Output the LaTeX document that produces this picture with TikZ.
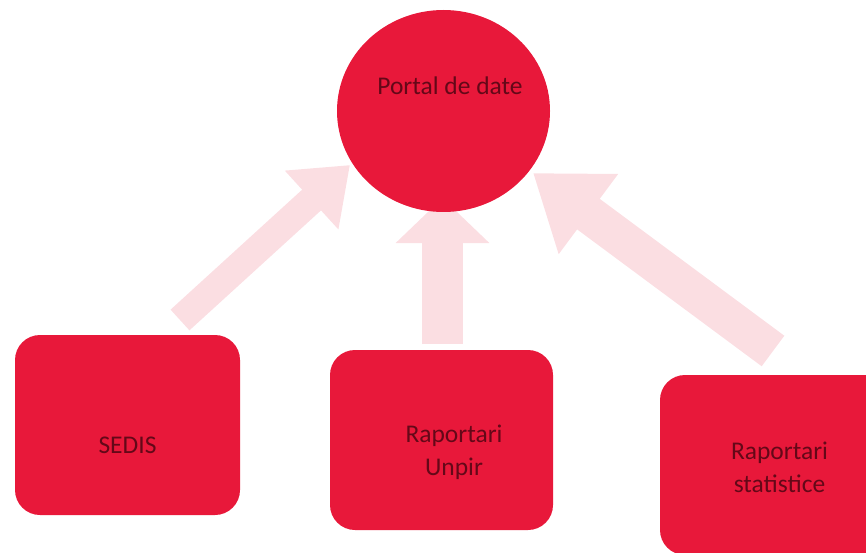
\documentclass[tikz,border=0pt]{standalone}
\usepackage{fontspec}
\setmainfont{Carlito}
\usetikzlibrary{arrows.meta,shapes.geometric}
\definecolor{boxred}{RGB}{232,24,58}
\definecolor{txtred}{RGB}{100,8,24}
\definecolor{pink}{RGB}{251,222,226}
\begin{document}
\begin{tikzpicture}[x=1pt,y=-1pt,
  redbox/.style={fill=boxred,draw=none,rounded corners=25pt,inner sep=0pt},
  lbl/.style={text=txtred,font=\fontsize{25.5}{33}\selectfont,align=center,inner sep=0pt,anchor=base},
  bigarrow/.style={pink}]
\useasboundingbox (0,0) rectangle (866,553);
% arrow end points
\coordinate (t1) at (180,320);
\coordinate (h1) at (350,165);
\coordinate (t2) at (442.5,344);
\coordinate (h2) at (442.5,198);
\coordinate (t3) at (773,351);
\coordinate (h3) at (533,173);
\draw[bigarrow,line width=28pt,-{Triangle[length=52pt,width=76pt]}] (t1) -- (h1);
\draw[bigarrow,line width=41pt,-{Triangle[length=45pt,width=91pt]}] (t2) -- (h2);
\draw[bigarrow,line width=38pt,-{Triangle[length=69pt,width=95pt]}] (t3) -- (h3);
% nodes
\node[ellipse,fill=boxred,minimum width=213pt,minimum height=202pt,inner sep=0pt] (portal) at (443.5,111) {};
\node[lbl] (portaltxt) at (450,95) {Portal de date};
\node[redbox,minimum width=225pt,minimum height=180pt] (sedis) at (127.5,425) {};
\node[lbl] (sedistxt) at (127.5,453) {SEDIS};
\node[redbox,minimum width=223pt,minimum height=180pt] (unpir) at (441.5,440) {};
\node[lbl] (unpirtxt) at (454,475) {Raportari\\Unpir};
\node[redbox,minimum width=232pt,minimum height=180pt] (stat) at (776,465) {};
\node[lbl] (stattxt) at (779.5,492) {Raportari\\statistice};
\end{tikzpicture}
\end{document}
